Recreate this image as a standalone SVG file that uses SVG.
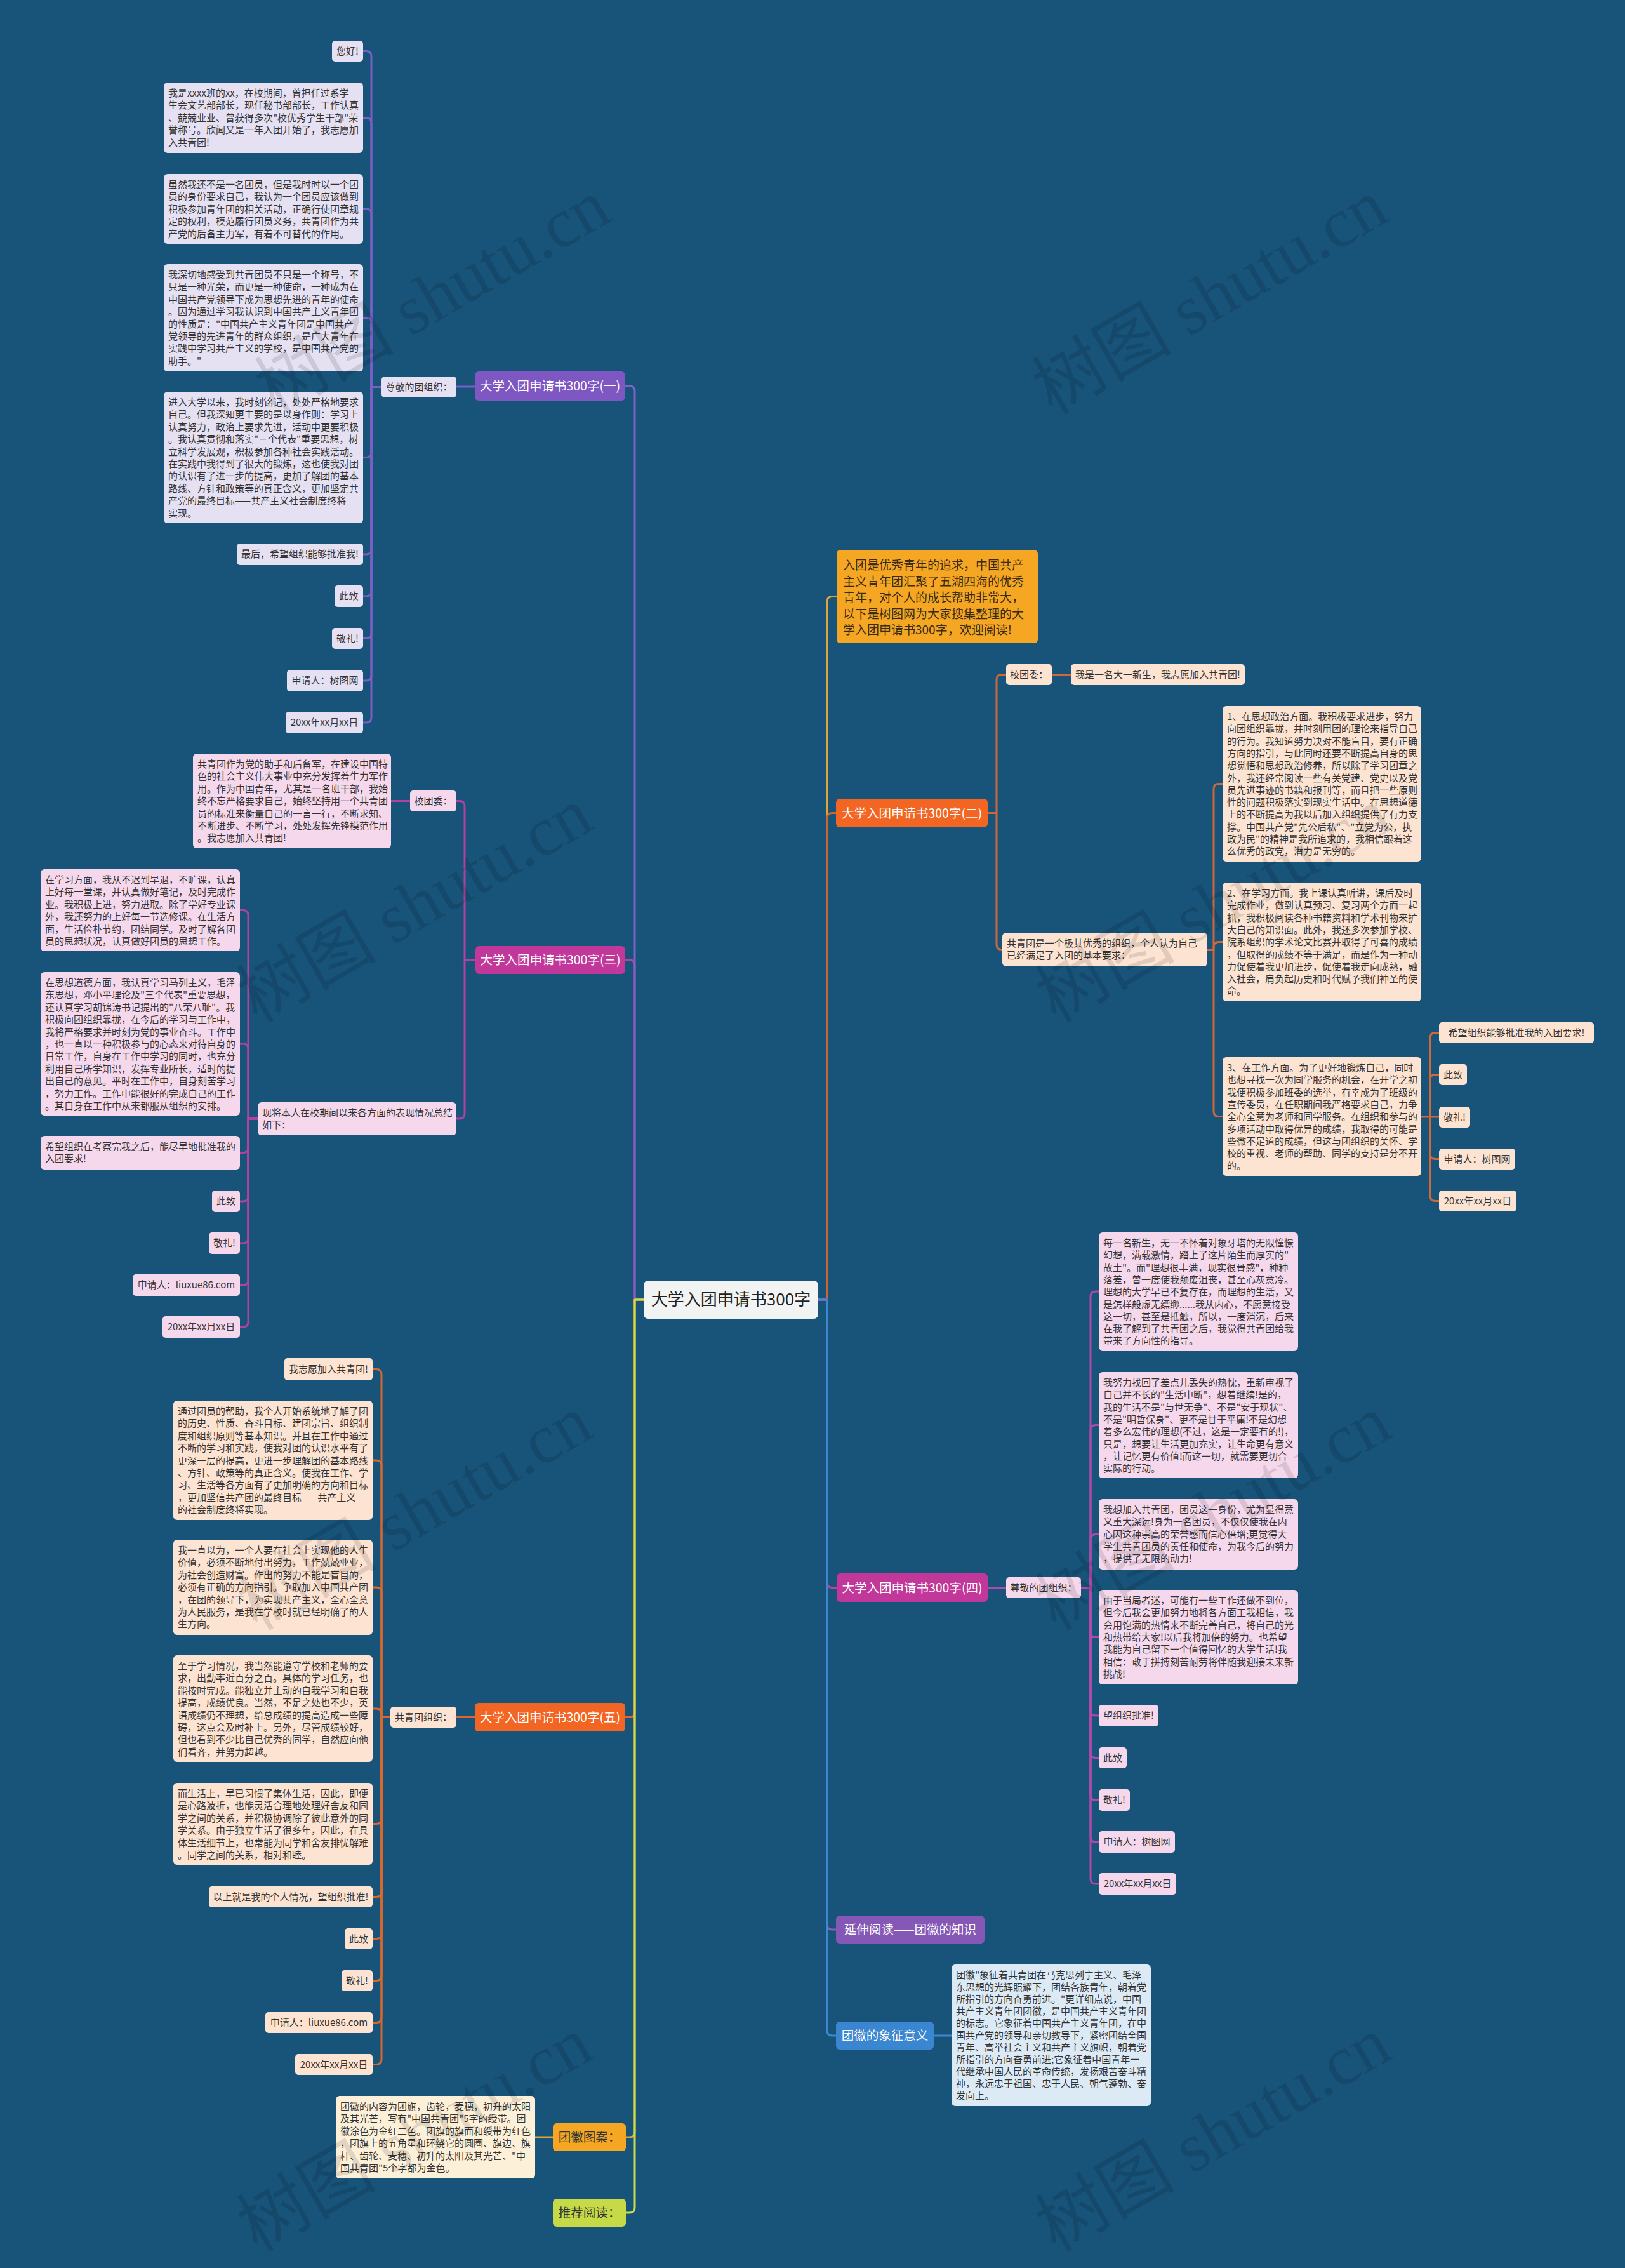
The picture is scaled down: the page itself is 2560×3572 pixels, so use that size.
<svg xmlns="http://www.w3.org/2000/svg" width="2560" height="3572" viewBox="0 0 2560 3572">
<style>
text{font-family:"Noto Sans CJK SC","Noto Sans",sans-serif;}
.t{font-size:15px;fill:#333;}
.m{text-anchor:middle;}
.bl{font-size:19.5px;fill:#fff;text-anchor:middle;}
.bd{font-size:19.5px;fill:#333;text-anchor:middle;}
.c{fill:none;stroke-width:3;stroke-linecap:round;stroke-linejoin:round;}
.wm{font-family:"Liberation Serif","Noto Sans CJK SC",serif;font-size:110px;fill:#000;fill-opacity:0.11;text-anchor:middle;}
.p1{fill:#E5E0F2;} .p3{fill:#F5D8EB;} .p5{fill:#FDE3D2;} .p6{fill:#FDF0D9;} .p9{fill:#DCEAF6;}
</style>
<rect x="0" y="0" width="2560" height="3572" fill="#185379"/>

<g id="connectors">
<g class="c">
<path stroke="#BF3E9E" d="M1014 2047 H1000 V1520 Q1000 1512 992 1512 H985"/>
<path stroke="#7E62C6" d="M1014 2047 H1000 V616 Q1000 608 992 608 H985"/>
<path stroke="#E0662A" d="M1014 2047 H1000 V2696.5 Q1000 2704.5 992 2704.5 H985"/>
<path stroke="#E0A33A" d="M1014 2047 H1000 V3358 Q1000 3366 992 3366 H986"/>
<path stroke="#C8DE4A" d="M1014 2047 H1000 V3477 Q1000 3485 992 3485 H986"/>
<path stroke="#E0A33A" d="M1289 2047 H1303 V947.5 Q1303 939.5 1311 939.5 H1318"/>
<path stroke="#D0662F" d="M1289 2047 H1303 V1288.5 Q1303 1280.5 1311 1280.5 H1317"/>
<path stroke="#BF3E9E" d="M1289 2047 H1303 V2492.5 Q1303 2500.5 1311 2500.5 H1318"/>
<path stroke="#8E5CC0" d="M1289 2047 H1303 V3031 Q1303 3039 1311 3039 H1317"/>
<path stroke="#3E88D2" d="M1289 2047 H1303 V3198 Q1303 3206 1311 3206 H1317"/>
</g>
<g class="c" stroke="#7A60C4">
<path d="M748 609 H719"/>
<path d="M601 609.5 H585 V88.5 Q585 80.5 577 80.5 H572"/>
<path d="M601 609.5 H585 V193.5 Q585 185.5 577 185.5 H572"/>
<path d="M601 609.5 H585 V337 Q585 329 577 329 H572"/>
<path d="M601 609.5 H585 V508.5 Q585 500.5 577 500.5 H572"/>
<path d="M601 609.5 H585 V712.5 Q585 720.5 577 720.5 H572"/>
<path d="M601 609.5 H585 V865 Q585 873 577 873 H572"/>
<path d="M601 609.5 H585 V931 Q585 939 577 939 H572"/>
<path d="M601 609.5 H585 V997.5 Q585 1005.5 577 1005.5 H572"/>
<path d="M601 609.5 H585 V1064 Q585 1072 577 1072 H572"/>
<path d="M601 609.5 H585 V1130 Q585 1138 577 1138 H572"/>
</g>
<g class="c" stroke="#B3419F">
<path d="M749 1512 H732 V1269.5 Q732 1261.5 724 1261.5 H719"/>
<path d="M749 1512 H732 V1754 Q732 1762 724 1762 H719"/>
<path d="M646 1261.5 H616"/>
<path d="M406 1762 H391 V1441.5 Q391 1433.5 383 1433.5 H378"/>
<path d="M406 1762 H391 V1652 Q391 1644 383 1644 H378"/>
<path d="M406 1762 H391 V1807.5 Q391 1815.5 383 1815.5 H378"/>
<path d="M406 1762 H391 V1884 Q391 1892 383 1892 H378"/>
<path d="M406 1762 H391 V1950 Q391 1958 383 1958 H378"/>
<path d="M406 1762 H391 V2016 Q391 2024 383 2024 H378"/>
<path d="M406 1762 H391 V2082 Q391 2090 383 2090 H378"/>
</g>
<g class="c" stroke="#D9692E">
<path d="M748 2704.5 H719"/>
<path d="M615 2704.5 H601 V2164.5 Q601 2156.5 593 2156.5 H587"/>
<path d="M615 2704.5 H601 V2308 Q601 2300 593 2300 H587"/>
<path d="M615 2704.5 H601 V2508 Q601 2500 593 2500 H587"/>
<path d="M615 2704.5 H601 V2699 Q601 2691 593 2691 H587"/>
<path d="M615 2704.5 H601 V2864.5 Q601 2872.5 593 2872.5 H587"/>
<path d="M615 2704.5 H601 V2979.5 Q601 2987.5 593 2987.5 H587"/>
<path d="M615 2704.5 H601 V3045.5 Q601 3053.5 593 3053.5 H587"/>
<path d="M615 2704.5 H601 V3111.5 Q601 3119.5 593 3119.5 H587"/>
<path d="M615 2704.5 H601 V3177.5 Q601 3185.5 593 3185.5 H587"/>
<path d="M615 2704.5 H601 V3243.5 Q601 3251.5 593 3251.5 H587"/>
</g>
<g class="c" stroke="#D9A640">
<path d="M871 3366 H843"/>
</g>
<g class="c" stroke="#D0683A">
<path d="M1556 1280.5 H1570 V1070.5 Q1570 1062.5 1578 1062.5 H1585"/>
<path d="M1556 1280.5 H1570 V1487.5 Q1570 1495.5 1578 1495.5 H1579"/>
<path d="M1657 1062.5 H1687"/>
<path d="M1902 1495.5 H1912 V1242.5 Q1912 1234.5 1920 1234.5 H1926"/>
<path d="M1902 1495.5 H1912 V1491.5 Q1912 1483.5 1920 1483.5 H1926"/>
<path d="M1902 1495.5 H1912 V1750.5 Q1912 1758.5 1920 1758.5 H1926"/>
<path d="M2239 1758.5 H2253 V1634.5 Q2253 1626.5 2261 1626.5 H2267"/>
<path d="M2239 1758.5 H2253 V1700.5 Q2253 1692.5 2261 1692.5 H2267"/>
<path d="M2239 1759 H2267"/>
<path d="M2239 1758.5 H2253 V1817.5 Q2253 1825.5 2261 1825.5 H2267"/>
<path d="M2239 1758.5 H2253 V1883.5 Q2253 1891.5 2261 1891.5 H2267"/>
</g>
<g class="c" stroke="#B04AAA">
<path d="M1556 2500.5 H1585"/>
<path d="M1703 2500.5 H1718 V2042 Q1718 2034 1726 2034 H1731"/>
<path d="M1703 2500.5 H1718 V2252.5 Q1718 2244.5 1726 2244.5 H1731"/>
<path d="M1703 2500.5 H1718 V2424.5 Q1718 2416.5 1726 2416.5 H1731"/>
<path d="M1703 2500.5 H1718 V2570.5 Q1718 2578.5 1726 2578.5 H1731"/>
<path d="M1703 2500.5 H1718 V2694 Q1718 2702 1726 2702 H1731"/>
<path d="M1703 2500.5 H1718 V2760.5 Q1718 2768.5 1726 2768.5 H1731"/>
<path d="M1703 2500.5 H1718 V2827 Q1718 2835 1726 2835 H1731"/>
<path d="M1703 2500.5 H1718 V2893 Q1718 2901 1726 2901 H1731"/>
<path d="M1703 2500.5 H1718 V2959 Q1718 2967 1726 2967 H1731"/>
</g>
<g class="c" stroke="#3E88D2">
<path d="M1471 3206 H1499"/>
</g>
</g>

<g id="root">
<rect x="1014" y="2017" width="275" height="60" rx="7" fill="#F2F3F3"/>
<text x="1151.5" y="2056" font-size="26" fill="#222" text-anchor="middle">大学入团申请书300字</text>
</g>

<g id="branch1">
<rect x="748" y="585" width="237" height="46" rx="6" fill="#7E57C2"/>
<text class="bl" x="866.5" y="615">大学入团申请书300字(一)</text>
</g>
<g id="b1-salute"><rect class="p1" x="601" y="593" width="118" height="33" rx="5"/><text class="t m" x="660" y="615">尊敬的团组织：</text></g>
<g id="b1-hello"><rect class="p1" x="523" y="64" width="49" height="33" rx="5"/><text class="t m" x="547.5" y="86">您好!</text></g>
<g id="b1-p1"><rect class="p1" x="258" y="130" width="314" height="111" rx="6"/>
<text class="t" x="265" y="152"><tspan x="265">我是xxxx班的xx，在校期间，曾担任过系学</tspan><tspan x="265" dy="19.4">生会文艺部部长，现任秘书部部长，工作认真</tspan><tspan x="265" dy="19.4">、兢兢业业、曾获得多次"校优秀学生干部"荣</tspan><tspan x="265" dy="19.4">誉称号。欣闻又是一年入团开始了，我志愿加</tspan><tspan x="265" dy="19.4">入共青团!</tspan></text></g>
<g id="b1-p2"><rect class="p1" x="258" y="274" width="314" height="110" rx="6"/>
<text class="t" x="265" y="296"><tspan x="265">虽然我还不是一名团员，但是我时时以一个团</tspan><tspan x="265" dy="19.4">员的身份要求自己，我认为一个团员应该做到</tspan><tspan x="265" dy="19.4">积极参加青年团的相关活动，正确行使团章规</tspan><tspan x="265" dy="19.4">定的权利，模范履行团员义务，共青团作为共</tspan><tspan x="265" dy="19.4">产党的后备主力军，有着不可替代的作用。</tspan></text></g>
<g id="b1-p3"><rect class="p1" x="258" y="416" width="314" height="169" rx="6"/>
<text class="t" x="265" y="438"><tspan x="265">我深切地感受到共青团员不只是一个称号，不</tspan><tspan x="265" dy="19.4">只是一种光荣，而更是一种使命，一种成为在</tspan><tspan x="265" dy="19.4">中国共产党领导下成为思想先进的青年的使命</tspan><tspan x="265" dy="19.4">。因为通过学习我认识到中国共产主义青年团</tspan><tspan x="265" dy="19.4">的性质是："中国共产主义青年团是中国共产</tspan><tspan x="265" dy="19.4">党领导的先进青年的群众组织，是广大青年在</tspan><tspan x="265" dy="19.4">实践中学习共产主义的学校，是中国共产党的</tspan><tspan x="265" dy="19.4">助手。"</tspan></text></g>
<g id="b1-p4"><rect class="p1" x="258" y="617" width="314" height="207" rx="6"/>
<text class="t" x="265" y="639"><tspan x="265">进入大学以来，我时刻铭记，处处严格地要求</tspan><tspan x="265" dy="19.4">自己。但我深知更主要的是以身作则：学习上</tspan><tspan x="265" dy="19.4">认真努力，政治上要求先进，活动中更要积极</tspan><tspan x="265" dy="19.4">。我认真贯彻和落实"三个代表"重要思想，树</tspan><tspan x="265" dy="19.4">立科学发展观，积极参加各种社会实践活动。</tspan><tspan x="265" dy="19.4">在实践中我得到了很大的锻炼，这也使我对团</tspan><tspan x="265" dy="19.4">的认识有了进一步的提高，更加了解团的基本</tspan><tspan x="265" dy="19.4">路线、方针和政策等的真正含义，更加坚定共</tspan><tspan x="265" dy="19.4">产党的最终目标——共产主义社会制度终将</tspan><tspan x="265" dy="19.4">实现。</tspan></text></g>
<g id="b1-last"><rect class="p1" x="373" y="856" width="199" height="34" rx="5"/><text class="t m" x="472.5" y="878">最后，希望组织能够批准我!</text></g>
<g id="b1-cizhi"><rect class="p1" x="527" y="922" width="45" height="34" rx="5"/><text class="t m" x="549.5" y="944">此致</text></g>
<g id="b1-jingli"><rect class="p1" x="523" y="989" width="49" height="33" rx="5"/><text class="t m" x="547.5" y="1011">敬礼!</text></g>
<g id="b1-name"><rect class="p1" x="452" y="1055" width="120" height="34" rx="5"/><text class="t m" x="512" y="1077">申请人：树图网</text></g>
<g id="b1-date"><rect class="p1" x="450" y="1121" width="122" height="34" rx="5"/><text class="t m" x="511" y="1143">20xx年xx月xx日</text></g>

<g id="branch3">
<rect x="749" y="1490" width="236" height="44" rx="6" fill="#C2389A"/>
<text class="bl" x="867" y="1519">大学入团申请书300字(三)</text>
</g>
<g id="b3-xtw"><rect class="p3" x="646" y="1245" width="73" height="33" rx="5"/><text class="t m" x="682.5" y="1267">校团委：</text></g>
<g id="b3-p0"><rect class="p3" x="304" y="1187" width="312" height="149" rx="6"/>
<text class="t" x="311" y="1209"><tspan x="311">共青团作为党的助手和后备军，在建设中国特</tspan><tspan x="311" dy="19.4">色的社会主义伟大事业中充分发挥着生力军作</tspan><tspan x="311" dy="19.4">用。作为中国青年，尤其是一名班干部，我始</tspan><tspan x="311" dy="19.4">终不忘严格要求自己，始终坚持用一个共青团</tspan><tspan x="311" dy="19.4">员的标准来衡量自己的一言一行，不断求知、</tspan><tspan x="311" dy="19.4">不断进步、不断学习，处处发挥先锋模范作用</tspan><tspan x="311" dy="19.4">。我志愿加入共青团!</tspan></text></g>
<g id="b3-summary"><rect class="p3" x="406" y="1736" width="313" height="52" rx="6"/>
<text class="t" x="413" y="1758"><tspan x="413">现将本人在校期间以来各方面的表现情况总结</tspan><tspan x="413" dy="19.4">如下：</tspan></text></g>
<g id="b3-p1"><rect class="p3" x="64" y="1369" width="314" height="129" rx="6"/>
<text class="t" x="71" y="1391"><tspan x="71">在学习方面，我从不迟到早退，不旷课，认真</tspan><tspan x="71" dy="19.4">上好每一堂课，并认真做好笔记，及时完成作</tspan><tspan x="71" dy="19.4">业。我积极上进，努力进取。除了学好专业课</tspan><tspan x="71" dy="19.4">外，我还努力的上好每一节选修课。在生活方</tspan><tspan x="71" dy="19.4">面，生活俭朴节约，团结同学。及时了解各团</tspan><tspan x="71" dy="19.4">员的思想状况，认真做好团员的思想工作。</tspan></text></g>
<g id="b3-p2"><rect class="p3" x="64" y="1531" width="314" height="226" rx="6"/>
<text class="t" x="71" y="1553"><tspan x="71">在思想道德方面，我认真学习马列主义，毛泽</tspan><tspan x="71" dy="19.4">东思想，邓小平理论及"三个代表"重要思想，</tspan><tspan x="71" dy="19.4">还认真学习胡锦涛书记提出的"八荣八耻"。我</tspan><tspan x="71" dy="19.4">积极向团组织靠拢，在今后的学习与工作中，</tspan><tspan x="71" dy="19.4">我将严格要求并时刻为党的事业奋斗。工作中</tspan><tspan x="71" dy="19.4">，也一直以一种积极参与的心态来对待自身的</tspan><tspan x="71" dy="19.4">日常工作，自身在工作中学习的同时，也充分</tspan><tspan x="71" dy="19.4">利用自己所学知识，发挥专业所长，适时的提</tspan><tspan x="71" dy="19.4">出自己的意见。平时在工作中，自身刻苦学习</tspan><tspan x="71" dy="19.4">，努力工作。工作中能很好的完成自己的工作</tspan><tspan x="71" dy="19.4">。其自身在工作中从来都服从组织的安排。</tspan></text></g>
<g id="b3-hope"><rect class="p3" x="64" y="1789" width="314" height="53" rx="6"/>
<text class="t" x="71" y="1811"><tspan x="71">希望组织在考察完我之后，能尽早地批准我的</tspan><tspan x="71" dy="19.4">入团要求!</tspan></text></g>
<g id="b3-cizhi"><rect class="p3" x="334" y="1875" width="44" height="34" rx="5"/><text class="t m" x="356" y="1897">此致</text></g>
<g id="b3-jingli"><rect class="p3" x="329" y="1941" width="49" height="34" rx="5"/><text class="t m" x="353.5" y="1963">敬礼!</text></g>
<g id="b3-name"><rect class="p3" x="209" y="2007" width="169" height="34" rx="5"/><text class="t m" x="293.5" y="2029">申请人：liuxue86.com</text></g>
<g id="b3-date"><rect class="p3" x="256" y="2073" width="122" height="34" rx="5"/><text class="t m" x="317" y="2095">20xx年xx月xx日</text></g>

<g id="branch5">
<rect x="748" y="2682" width="237" height="45" rx="6" fill="#F26522"/>
<text class="bl" x="866.5" y="2711.5">大学入团申请书300字(五)</text>
</g>
<g id="b5-salute"><rect class="p5" x="615" y="2688" width="104" height="33" rx="5"/><text class="t m" x="667" y="2710">共青团组织：</text></g>
<g id="b5-want"><rect class="p5" x="448" y="2139" width="139" height="35" rx="5"/><text class="t m" x="517.5" y="2162">我志愿加入共青团!</text></g>
<g id="b5-p1"><rect class="p5" x="273" y="2206" width="314" height="188" rx="6"/>
<text class="t" x="280" y="2228"><tspan x="280">通过团员的帮助，我个人开始系统地了解了团</tspan><tspan x="280" dy="19.4">的历史、性质、奋斗目标、建团宗旨、组织制</tspan><tspan x="280" dy="19.4">度和组织原则等基本知识。并且在工作中通过</tspan><tspan x="280" dy="19.4">不断的学习和实践，使我对团的认识水平有了</tspan><tspan x="280" dy="19.4">更深一层的提高，更进一步理解团的基本路线</tspan><tspan x="280" dy="19.4">、方针、政策等的真正含义。使我在工作、学</tspan><tspan x="280" dy="19.4">习、生活等各方面有了更加明确的方向和目标</tspan><tspan x="280" dy="19.4">，更加坚信共产团的最终目标——共产主义</tspan><tspan x="280" dy="19.4">的社会制度终将实现。</tspan></text></g>
<g id="b5-p2"><rect class="p5" x="273" y="2425" width="314" height="150" rx="6"/>
<text class="t" x="280" y="2447"><tspan x="280">我一直以为，一个人要在社会上实现他的人生</tspan><tspan x="280" dy="19.4">价值，必须不断地付出努力，工作兢兢业业，</tspan><tspan x="280" dy="19.4">为社会创造财富。作出的努力不能是盲目的，</tspan><tspan x="280" dy="19.4">必须有正确的方向指引。争取加入中国共产团</tspan><tspan x="280" dy="19.4">，在团的领导下，为实现共产主义，全心全意</tspan><tspan x="280" dy="19.4">为人民服务，是我在学校时就已经明确了的人</tspan><tspan x="280" dy="19.4">生方向。</tspan></text></g>
<g id="b5-p3"><rect class="p5" x="273" y="2607" width="314" height="168" rx="6"/>
<text class="t" x="280" y="2629"><tspan x="280">至于学习情况，我当然能遵守学校和老师的要</tspan><tspan x="280" dy="19.4">求，出勤率近百分之百。具体的学习任务，也</tspan><tspan x="280" dy="19.4">能按时完成。能独立并主动的自我学习和自我</tspan><tspan x="280" dy="19.4">提高，成绩优良。当然，不足之处也不少，英</tspan><tspan x="280" dy="19.4">语成绩仍不理想，给总成绩的提高造成一些障</tspan><tspan x="280" dy="19.4">碍，这点会及时补上。另外，尽管成绩较好，</tspan><tspan x="280" dy="19.4">但也看到不少比自己优秀的同学，自然应向他</tspan><tspan x="280" dy="19.4">们看齐，并努力超越。</tspan></text></g>
<g id="b5-p4"><rect class="p5" x="273" y="2808" width="314" height="129" rx="6"/>
<text class="t" x="280" y="2830"><tspan x="280">而生活上，早已习惯了集体生活，因此，即便</tspan><tspan x="280" dy="19.4">是心路波折，也能灵活合理地处理好舍友和同</tspan><tspan x="280" dy="19.4">学之间的关系，并积极协调除了彼此意外的同</tspan><tspan x="280" dy="19.4">学关系。由于独立生活了很多年，因此，在具</tspan><tspan x="280" dy="19.4">体生活细节上，也常能为同学和舍友排忧解难</tspan><tspan x="280" dy="19.4">。同学之间的关系，相对和睦。</tspan></text></g>
<g id="b5-above"><rect class="p5" x="329" y="2971" width="258" height="33" rx="5"/><text class="t m" x="458" y="2993">以上就是我的个人情况，望组织批准!</text></g>
<g id="b5-cizhi"><rect class="p5" x="543" y="3037" width="44" height="33" rx="5"/><text class="t m" x="565" y="3059">此致</text></g>
<g id="b5-jingli"><rect class="p5" x="538" y="3103" width="49" height="33" rx="5"/><text class="t m" x="562.5" y="3125">敬礼!</text></g>
<g id="b5-name"><rect class="p5" x="418" y="3169" width="169" height="33" rx="5"/><text class="t m" x="502.5" y="3191">申请人：liuxue86.com</text></g>
<g id="b5-date"><rect class="p5" x="465" y="3235" width="122" height="33" rx="5"/><text class="t m" x="526" y="3257">20xx年xx月xx日</text></g>

<g id="branch6">
<rect x="871" y="3344" width="115" height="44" rx="6" fill="#F5A623"/>
<text class="bd" x="928.5" y="3373">团徽图案：</text>
</g>
<g id="b6-p"><rect class="p6" x="529" y="3301" width="314" height="130" rx="6"/>
<text class="t" x="536" y="3323"><tspan x="536">团徽的内容为团旗，齿轮，麦穗，初升的太阳</tspan><tspan x="536" dy="19.4">及其光芒，写有"中国共青团"5字的绶带。团</tspan><tspan x="536" dy="19.4">徽涂色为金红二色。团旗的旗面和绶带为红色</tspan><tspan x="536" dy="19.4">，团旗上的五角星和环绕它的圆圈、旗边、旗</tspan><tspan x="536" dy="19.4">杆、齿轮、麦穗、初升的太阳及其光芒、"中</tspan><tspan x="536" dy="19.4">国共青团"5个字都为金色。</tspan></text></g>

<g id="branch7">
<rect x="871" y="3463" width="115" height="44" rx="6" fill="#C5DA46"/>
<text class="bd" x="928.5" y="3492">推荐阅读：</text>
</g>

<g id="intro">
<rect x="1318" y="866" width="317" height="147" rx="6" fill="#F5A623"/>
<text x="1328" y="897" font-size="19" fill="#3b2b12"><tspan x="1328">入团是优秀青年的追求，中国共产</tspan><tspan x="1328" dy="25.6">主义青年团汇聚了五湖四海的优秀</tspan><tspan x="1328" dy="25.6">青年，对个人的成长帮助非常大，</tspan><tspan x="1328" dy="25.6">以下是树图网为大家搜集整理的大</tspan><tspan x="1328" dy="25.6">学入团申请书300字，欢迎阅读!</tspan></text>
</g>

<g id="branch2">
<rect x="1317" y="1258" width="239" height="45" rx="6" fill="#F26522"/>
<text class="bl" x="1436.5" y="1287.5">大学入团申请书300字(二)</text>
</g>
<g id="b2-xtw"><rect class="p5" x="1585" y="1046" width="72" height="33" rx="5"/><text class="t m" x="1621" y="1068">校团委：</text></g>
<g id="b2-new"><rect class="p5" x="1687" y="1046" width="274" height="33" rx="5"/><text class="t m" x="1824" y="1068">我是一名大一新生，我志愿加入共青团!</text></g>
<g id="b2-org"><rect class="p5" x="1579" y="1469" width="323" height="53" rx="6"/>
<text class="t" x="1586" y="1491"><tspan x="1586">共青团是一个极其优秀的组织，个人认为自己</tspan><tspan x="1586" dy="19.4">已经满足了入团的基本要求：</tspan></text></g>
<g id="b2-p1"><rect class="p5" x="1926" y="1112" width="313" height="245" rx="6"/>
<text class="t" x="1933" y="1134"><tspan x="1933">1、在思想政治方面。我积极要求进步，努力</tspan><tspan x="1933" dy="19.3">向团组织靠拢，并时刻用团的理论来指导自己</tspan><tspan x="1933" dy="19.3">的行为。我知道努力决对不能盲目，要有正确</tspan><tspan x="1933" dy="19.3">方向的指引，与此同时还要不断提高自身的思</tspan><tspan x="1933" dy="19.3">想觉悟和思想政治修养，所以除了学习团章之</tspan><tspan x="1933" dy="19.3">外，我还经常阅读一些有关党建、党史以及党</tspan><tspan x="1933" dy="19.3">员先进事迹的书籍和报刊等，而且把一些原则</tspan><tspan x="1933" dy="19.3">性的问题积极落实到现实生活中。在思想道德</tspan><tspan x="1933" dy="19.3">上的不断提高为我以后加入组织提供了有力支</tspan><tspan x="1933" dy="19.3">撑。中国共产党"先公后私"、"立党为公，执</tspan><tspan x="1933" dy="19.3">政为民"的精神是我所追求的，我相信跟着这</tspan><tspan x="1933" dy="19.3">么优秀的政党，潜力是无穷的。</tspan></text></g>
<g id="b2-p2"><rect class="p5" x="1926" y="1390" width="313" height="187" rx="6"/>
<text class="t" x="1933" y="1412"><tspan x="1933">2、在学习方面。我上课认真听讲，课后及时</tspan><tspan x="1933" dy="19.3">完成作业，做到认真预习、复习两个方面一起</tspan><tspan x="1933" dy="19.3">抓，我积极阅读各种书籍资料和学术刊物来扩</tspan><tspan x="1933" dy="19.3">大自己的知识面。此外，我还多次参加学校、</tspan><tspan x="1933" dy="19.3">院系组织的学术论文比赛并取得了可喜的成绩</tspan><tspan x="1933" dy="19.3">，但取得的成绩不等于满足，而是作为一种动</tspan><tspan x="1933" dy="19.3">力促使着我更加进步，促使着我走向成熟，融</tspan><tspan x="1933" dy="19.3">入社会，肩负起历史和时代赋予我们神圣的使</tspan><tspan x="1933" dy="19.3">命。</tspan></text></g>
<g id="b2-p3"><rect class="p5" x="1926" y="1665" width="313" height="187" rx="6"/>
<text class="t" x="1933" y="1687"><tspan x="1933">3、在工作方面。为了更好地锻炼自己，同时</tspan><tspan x="1933" dy="19.3">也想寻找一次为同学服务的机会，在开学之初</tspan><tspan x="1933" dy="19.3">我便积极参加班委的选举，有幸成为了班级的</tspan><tspan x="1933" dy="19.3">宣传委员，在任职期间我严格要求自己，力争</tspan><tspan x="1933" dy="19.3">全心全意为老师和同学服务。在组织和参与的</tspan><tspan x="1933" dy="19.3">多项活动中取得优异的成绩，我取得的可能是</tspan><tspan x="1933" dy="19.3">些微不足道的成绩，但这与团组织的关怀、学</tspan><tspan x="1933" dy="19.3">校的重视、老师的帮助、同学的支持是分不开</tspan><tspan x="1933" dy="19.3">的。</tspan></text></g>
<g id="b2-hope"><rect class="p5" x="2267" y="1610" width="244" height="33" rx="5"/><text class="t m" x="2389" y="1632">希望组织能够批准我的入团要求!</text></g>
<g id="b2-cizhi"><rect class="p5" x="2267" y="1676" width="44" height="33" rx="5"/><text class="t m" x="2289" y="1698">此致</text></g>
<g id="b2-jingli"><rect class="p5" x="2267" y="1743" width="49" height="33" rx="5"/><text class="t m" x="2291.5" y="1765">敬礼!</text></g>
<g id="b2-name"><rect class="p5" x="2267" y="1809" width="120" height="33" rx="5"/><text class="t m" x="2327" y="1831">申请人：树图网</text></g>
<g id="b2-date"><rect class="p5" x="2267" y="1875" width="122" height="33" rx="5"/><text class="t m" x="2328" y="1897">20xx年xx月xx日</text></g>

<g id="branch4">
<rect x="1318" y="2478" width="238" height="45" rx="6" fill="#C2389A"/>
<text class="bl" x="1437" y="2507.5">大学入团申请书300字(四)</text>
</g>
<g id="b4-salute"><rect class="p3" x="1585" y="2484" width="118" height="33" rx="5"/><text class="t m" x="1644" y="2506">尊敬的团组织：</text></g>
<g id="b4-p1"><rect class="p3" x="1731" y="1941" width="314" height="186" rx="6"/>
<text class="t" x="1738" y="1963"><tspan x="1738">每一名新生，无一不怀着对象牙塔的无限憧憬</tspan><tspan x="1738" dy="19.3">幻想，满载激情，踏上了这片陌生而厚实的"</tspan><tspan x="1738" dy="19.3">故土"。而"理想很丰满，现实很骨感"，种种</tspan><tspan x="1738" dy="19.3">落差，曾一度使我颓废沮丧，甚至心灰意冷。</tspan><tspan x="1738" dy="19.3">理想的大学早已不复存在，而理想的生活，又</tspan><tspan x="1738" dy="19.3">是怎样般虚无缥缈......我从内心，不愿意接受</tspan><tspan x="1738" dy="19.3">这一切，甚至是抵触，所以，一度消沉，后来</tspan><tspan x="1738" dy="19.3">在我了解到了共青团之后，我觉得共青团给我</tspan><tspan x="1738" dy="19.3">带来了方向性的指导。</tspan></text></g>
<g id="b4-p2"><rect class="p3" x="1731" y="2161" width="314" height="167" rx="6"/>
<text class="t" x="1738" y="2183"><tspan x="1738">我努力找回了差点儿丢失的热忱，重新审视了</tspan><tspan x="1738" dy="19.3">自己并不长的"生活中断"，想着继续!是的，</tspan><tspan x="1738" dy="19.3">我的生活不是"与世无争"、不是"安于现状"、</tspan><tspan x="1738" dy="19.3">不是"明哲保身"、更不是甘于平庸!不是幻想</tspan><tspan x="1738" dy="19.3">着多么宏伟的理想(不过，这是一定要有的!)，</tspan><tspan x="1738" dy="19.3">只是，想要让生活更加充实，让生命更有意义</tspan><tspan x="1738" dy="19.3">，让记忆更有价值!而这一切，就需要更切合</tspan><tspan x="1738" dy="19.3">实际的行动。</tspan></text></g>
<g id="b4-p3"><rect class="p3" x="1731" y="2361" width="314" height="111" rx="6"/>
<text class="t" x="1738" y="2383"><tspan x="1738">我想加入共青团，团员这一身份，尤为显得意</tspan><tspan x="1738" dy="19.3">义重大深远!身为一名团员，不仅仅使我在内</tspan><tspan x="1738" dy="19.3">心因这种崇高的荣誉感而信心倍增;更觉得大</tspan><tspan x="1738" dy="19.3">学生共青团员的责任和使命，为我今后的努力</tspan><tspan x="1738" dy="19.3">，提供了无限的动力!</tspan></text></g>
<g id="b4-p4"><rect class="p3" x="1731" y="2504" width="314" height="149" rx="6"/>
<text class="t" x="1738" y="2526"><tspan x="1738">由于当局者迷，可能有一些工作还做不到位，</tspan><tspan x="1738" dy="19.3">但今后我会更加努力地将各方面工我相信，我</tspan><tspan x="1738" dy="19.3">会用饱满的热情来不断完善自己，将自己的光</tspan><tspan x="1738" dy="19.3">和热带给大家!以后我将加倍的努力。也希望</tspan><tspan x="1738" dy="19.3">我能为自己留下一个值得回忆的大学生活!我</tspan><tspan x="1738" dy="19.3">相信：敢于拼搏刻苦耐劳将伴随我迎接未来新</tspan><tspan x="1738" dy="19.3">挑战!</tspan></text></g>
<g id="b4-hope"><rect class="p3" x="1731" y="2685" width="94" height="34" rx="5"/><text class="t m" x="1778" y="2707">望组织批准!</text></g>
<g id="b4-cizhi"><rect class="p3" x="1731" y="2752" width="44" height="33" rx="5"/><text class="t m" x="1753" y="2774">此致</text></g>
<g id="b4-jingli"><rect class="p3" x="1731" y="2818" width="49" height="34" rx="5"/><text class="t m" x="1755.5" y="2840">敬礼!</text></g>
<g id="b4-name"><rect class="p3" x="1731" y="2884" width="120" height="34" rx="5"/><text class="t m" x="1791" y="2906">申请人：树图网</text></g>
<g id="b4-date"><rect class="p3" x="1731" y="2950" width="122" height="34" rx="5"/><text class="t m" x="1792" y="2972">20xx年xx月xx日</text></g>

<g id="branch8">
<rect x="1317" y="3017" width="234" height="44" rx="6" fill="#8558B5"/>
<text class="bl" x="1434" y="3046">延伸阅读——团徽的知识</text>
</g>
<g id="branch9">
<rect x="1317" y="3184" width="154" height="44" rx="6" fill="#3A86D0"/>
<text class="bl" x="1394" y="3213">团徽的象征意义</text>
</g>
<g id="b9-p"><rect class="p9" x="1499" y="3094" width="314" height="223" rx="6"/>
<text class="t" x="1506" y="3116"><tspan x="1506">团徽"象征着共青团在马克思列宁主义、毛泽</tspan><tspan x="1506" dy="19">东思想的光辉照耀下，团结各族青年，朝着党</tspan><tspan x="1506" dy="19">所指引的方向奋勇前进。"更详细点说，中国</tspan><tspan x="1506" dy="19">共产主义青年团团徽，是中国共产主义青年团</tspan><tspan x="1506" dy="19">的标志。它象征着中国共产主义青年团，在中</tspan><tspan x="1506" dy="19">国共产党的领导和亲切教导下，紧密团结全国</tspan><tspan x="1506" dy="19">青年、高举社会主义和共产主义旗帜，朝着党</tspan><tspan x="1506" dy="19">所指引的方向奋勇前进;它象征着中国青年一</tspan><tspan x="1506" dy="19">代继承中国人民的革命传统，发扬艰苦奋斗精</tspan><tspan x="1506" dy="19">神，永远忠于祖国、忠于人民、朝气蓬勃、奋</tspan><tspan x="1506" dy="19">发向上。</tspan></text></g>

<g id="watermark">
<text class="wm" x="700" y="500" transform="rotate(-30 700 500)">树图 shutu.cn</text>
<text class="wm" x="1925" y="500" transform="rotate(-30 1925 500)">树图 shutu.cn</text>
<text class="wm" x="672" y="1458" transform="rotate(-30 672 1458)">树图 shutu.cn</text>
<text class="wm" x="1930" y="1458" transform="rotate(-30 1930 1458)">树图 shutu.cn</text>
<text class="wm" x="672" y="2415" transform="rotate(-30 672 2415)">树图 shutu.cn</text>
<text class="wm" x="1930" y="2415" transform="rotate(-30 1930 2415)">树图 shutu.cn</text>
<text class="wm" x="672" y="3394" transform="rotate(-30 672 3394)">树图 shutu.cn</text>
<text class="wm" x="1930" y="3394" transform="rotate(-30 1930 3394)">树图 shutu.cn</text>
</g>
</svg>
